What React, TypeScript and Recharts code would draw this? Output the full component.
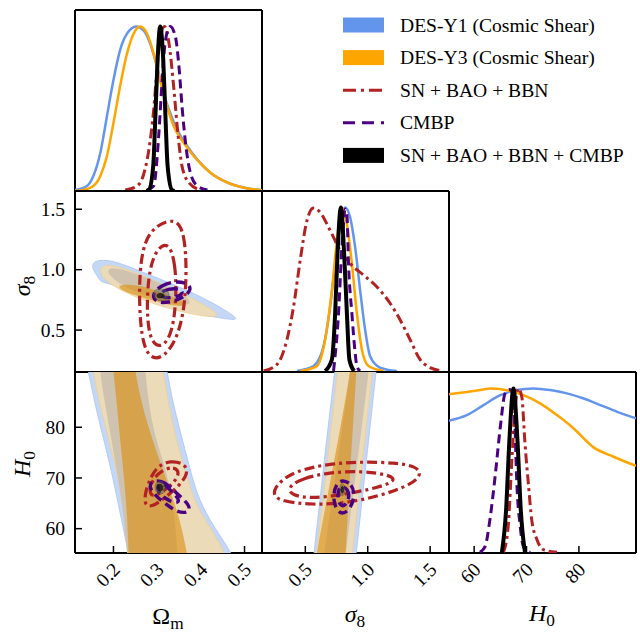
import React from 'react';
import { ScatterChart, Scatter, XAxis, YAxis } from 'recharts';

type Pt = [number, number];

// colours
const BLUE = '#6495ED';
const ORANGE = '#FFA500';
const RED = '#B22222';
const PURPLE = '#4B0082';
const FONT = 'Liberation Serif, DejaVu Serif, serif';

// axis ranges and ticks
const omDomain = [0.112, 0.54];
const s8Domain = [0.153, 1.651];
const h0Domain = [55.2, 90.9];
const pdfDomain = [0, 1.1];
const omTicks = [0.2, 0.3, 0.4, 0.5];
const s8Ticks = [0.5, 1.0, 1.5];
const h0Ticks = [60, 70, 80];

// ---- 1D marginals (normalised to peak = 1) ----
const omY1: Pt[] = [[0.112, 0.006], [0.139, 0.03], [0.154, 0.091], [0.17, 0.232], [0.185, 0.453], [0.2, 0.674], [0.215, 0.855], [0.231, 0.956], [0.252, 1.0], [0.269, 0.976], [0.284, 0.896], [0.3, 0.754], [0.315, 0.594], [0.33, 0.473], [0.346, 0.372], [0.369, 0.272], [0.392, 0.191], [0.422, 0.111], [0.461, 0.051], [0.499, 0.02], [0.54, 0.005]];
const omY3: Pt[] = [[0.112, 0.0], [0.131, 0.006], [0.154, 0.03], [0.17, 0.091], [0.185, 0.211], [0.2, 0.413], [0.215, 0.634], [0.231, 0.835], [0.246, 0.956], [0.261, 1.0], [0.277, 0.956], [0.292, 0.835], [0.307, 0.674], [0.323, 0.513], [0.338, 0.393], [0.361, 0.292], [0.384, 0.211], [0.422, 0.111], [0.461, 0.051], [0.499, 0.02], [0.54, 0.005]];
const omSN: Pt[] = [[0.227, 0.006], [0.254, 0.03], [0.269, 0.1], [0.281, 0.25], [0.292, 0.49], [0.3, 0.75], [0.307, 0.935], [0.317, 1.0], [0.327, 0.9], [0.338, 0.63], [0.346, 0.39], [0.357, 0.15], [0.373, 0.05], [0.399, 0.006]];
const omCMB: Pt[] = [[0.277, 0.006], [0.292, 0.03], [0.304, 0.352], [0.311, 0.654], [0.319, 0.915], [0.33, 1.0], [0.342, 0.935], [0.35, 0.754], [0.357, 0.513], [0.365, 0.292], [0.376, 0.111], [0.392, 0.03], [0.415, 0.006]];
const omAll: Pt[] = [[0.275, 0.0], [0.281, 0.006], [0.291, 0.151], [0.296, 0.453], [0.301, 0.795], [0.307, 1.0], [0.314, 0.795], [0.319, 0.453], [0.324, 0.151], [0.334, 0.006], [0.34, 0.0]];

const s8Y1: Pt[] = [[0.433, 0.006], [0.566, 0.036], [0.646, 0.157], [0.699, 0.398], [0.739, 0.659], [0.779, 0.9], [0.819, 1.0], [0.859, 0.94], [0.899, 0.759], [0.939, 0.498], [0.979, 0.257], [1.019, 0.096], [1.099, 0.027], [1.233, 0.006]];
const s8Y3: Pt[] = [[0.459, 0.006], [0.593, 0.036], [0.659, 0.197], [0.713, 0.498], [0.753, 0.799], [0.793, 1.0], [0.833, 0.9], [0.873, 0.659], [0.913, 0.357], [0.953, 0.137], [1.006, 0.036], [1.126, 0.006]];
const s8SN: Pt[] = [[0.166, 0.006], [0.273, 0.046], [0.353, 0.197], [0.406, 0.398], [0.459, 0.679], [0.513, 0.92], [0.566, 0.996], [0.619, 0.97], [0.699, 0.86], [0.779, 0.739], [0.859, 0.659], [0.966, 0.589], [1.073, 0.518], [1.179, 0.418], [1.259, 0.317], [1.339, 0.197], [1.419, 0.076], [1.499, 0.027], [1.606, 0.006]];
const s8CMB: Pt[] = [[0.726, 0.006], [0.766, 0.357], [0.793, 0.759], [0.819, 0.99], [0.833, 0.96], [0.846, 0.659], [0.873, 0.357], [0.899, 0.117], [0.913, 0.036], [0.939, 0.006]];
const s8All: Pt[] = [[0.659, 0.006], [0.713, 0.076], [0.739, 0.357], [0.758, 0.719], [0.785, 1.0], [0.811, 0.719], [0.833, 0.357], [0.853, 0.076], [0.891, 0.006]];

const h0Y1: Pt[] = [[55.2, 0.804], [58.6, 0.838], [61.8, 0.899], [65.0, 0.959], [68.1, 0.99], [71.3, 1.0], [74.5, 0.99], [77.7, 0.97], [80.9, 0.939], [84.1, 0.899], [87.3, 0.858], [90.9, 0.818]];
const h0Y3: Pt[] = [[55.2, 0.965], [58.6, 0.979], [61.8, 0.994], [63.0, 1.0], [66.9, 0.985], [69.4, 0.959], [72.6, 0.909], [75.8, 0.838], [79.0, 0.757], [82.8, 0.642], [86.6, 0.585], [90.9, 0.529]];
const h0SN: Pt[] = [[65.6, 0.004], [66.5, 0.161], [67.2, 0.565], [67.8, 0.868], [68.45, 1.0], [69.1, 0.949], [69.7, 0.667], [70.4, 0.404], [71.0, 0.2], [72.0, 0.081], [73.2, 0.02], [75.8, 0.004]];
const h0CMB: Pt[] = [[61.1, 0.004], [62.1, 0.04], [63.0, 0.2], [64.0, 0.464], [65.0, 0.767], [65.9, 0.97], [66.7, 0.994], [67.5, 0.97], [67.8, 0.767], [68.1, 0.464], [68.8, 0.161], [69.4, 0.04], [70.7, 0.004]];
const h0All: Pt[] = [[65.3, 0.004], [66.1, 0.262], [66.7, 0.667], [67.5, 1.0], [68.3, 0.667], [68.9, 0.262], [69.7, 0.004]];

// ---- 2D contours: Omega_m vs sigma_8 ----
const osY1Out: Pt[] = [[0.154, 1.078], [0.196, 1.084], [0.265, 0.982], [0.342, 0.872], [0.418, 0.748], [0.491, 0.588], [0.472, 0.583], [0.403, 0.624], [0.342, 0.679], [0.265, 0.781], [0.204, 0.872], [0.169, 0.899], [0.166, 0.935], [0.15, 1.01]];
const osY1In: Pt[] = [[0.185, 1.023], [0.227, 1.001], [0.303, 0.899], [0.372, 0.775], [0.38, 0.706], [0.342, 0.706], [0.265, 0.789], [0.212, 0.886], [0.189, 0.955]];
const osY3Out: Pt[] = [[0.167, 1.037], [0.204, 1.037], [0.265, 0.955], [0.342, 0.83], [0.418, 0.692], [0.445, 0.615], [0.418, 0.605], [0.342, 0.66], [0.265, 0.748], [0.204, 0.853], [0.173, 0.935]];
const osY3In: Pt[] = [[0.212, 0.881], [0.265, 0.872], [0.326, 0.789], [0.372, 0.72], [0.357, 0.687], [0.303, 0.726], [0.242, 0.797], [0.212, 0.841]];
const osSNOut: Pt[] = [[0.342, 1.44], [0.363, 1.3], [0.368, 0.968], [0.361, 0.61], [0.336, 0.35], [0.296, 0.23], [0.266, 0.35], [0.258, 0.748], [0.262, 1.106], [0.282, 1.34]];
const osSNIn: Pt[] = [[0.326, 1.24], [0.342, 1.051], [0.344, 0.775], [0.336, 0.49], [0.313, 0.35], [0.286, 0.39], [0.276, 0.61], [0.279, 0.941], [0.295, 1.16]];
const osCMBOut: Pt[] = [[0.288, 0.803], [0.311, 0.872], [0.342, 0.907], [0.372, 0.886], [0.379, 0.83], [0.357, 0.762], [0.326, 0.726], [0.296, 0.726]];
const osCMBIn: Pt[] = [[0.303, 0.803], [0.326, 0.844], [0.353, 0.844], [0.361, 0.803], [0.342, 0.77], [0.315, 0.762]];
const osAllOut: Pt[] = [[0.287, 0.8], [0.298, 0.845], [0.318, 0.84], [0.331, 0.8], [0.322, 0.745], [0.3, 0.735]];
const osAllIn: Pt[] = [[0.298, 0.795], [0.306, 0.812], [0.316, 0.8], [0.318, 0.775], [0.308, 0.758], [0.298, 0.77]];

// ---- 2D contours: Omega_m vs H0 ----
const ohY1Out: Pt[] = [[0.131, 94.9], [0.143, 90.96], [0.158, 84.4], [0.177, 77.8], [0.196, 71.2], [0.215, 63.2], [0.235, 54.9], [0.242, 51.4], [0.487, 51.4], [0.472, 54.9], [0.449, 57.96], [0.419, 61.9], [0.392, 66.5], [0.373, 72.5], [0.353, 79.1], [0.334, 85.7], [0.323, 90.96], [0.315, 94.9]];
const ohY3Out: Pt[] = [[0.146, 94.9], [0.154, 90.96], [0.169, 84.4], [0.189, 77.8], [0.208, 71.2], [0.227, 63.2], [0.244, 54.9], [0.25, 51.4], [0.472, 51.4], [0.457, 54.9], [0.419, 60.6], [0.388, 64.6], [0.365, 71.2], [0.342, 77.8], [0.327, 84.4], [0.313, 90.96], [0.307, 94.9]];
const ohY1In: Pt[] = [[0.166, 94.9], [0.169, 90.96], [0.181, 84.4], [0.195, 77.8], [0.208, 71.2], [0.223, 63.2], [0.231, 54.9], [0.236, 51.4], [0.35, 51.4], [0.346, 54.9], [0.342, 61.3], [0.33, 67.9], [0.315, 73.1], [0.296, 77.8], [0.281, 84.4], [0.273, 90.96], [0.269, 94.9]];
const ohY3In: Pt[] = [[0.196, 94.9], [0.2, 90.96], [0.208, 84.4], [0.215, 77.8], [0.223, 71.2], [0.231, 63.2], [0.235, 54.9], [0.237, 51.4], [0.376, 51.4], [0.369, 54.9], [0.357, 59.9], [0.342, 64.6], [0.315, 71.2], [0.288, 77.8], [0.265, 84.4], [0.25, 90.96], [0.244, 94.9]];
const ohSNOut: Pt[] = [[0.3, 72.2], [0.33, 73.5], [0.364, 72.8], [0.371, 70.9], [0.351, 68.5], [0.318, 66.1], [0.286, 64.1], [0.27, 64.8], [0.274, 67.7], [0.286, 70.2]];
const ohSNIn: Pt[] = [[0.31, 71.5], [0.339, 72.3], [0.352, 71.0], [0.339, 69.1], [0.31, 67.1], [0.289, 66.2], [0.281, 67.6], [0.291, 69.8]];
const ohCMBOut: Pt[] = [[0.288, 69.5], [0.315, 69.5], [0.342, 67.2], [0.376, 64.6], [0.373, 63.1], [0.346, 63.2], [0.319, 64.9], [0.296, 66.5], [0.281, 68.2]];
const ohCMBIn: Pt[] = [[0.3, 68.9], [0.319, 68.7], [0.338, 66.9], [0.353, 65.5], [0.342, 64.9], [0.319, 65.9], [0.302, 67.2]];
const ohAllOut: Pt[] = [[0.296, 69.2], [0.31, 69.6], [0.32, 68.5], [0.318, 67.0], [0.304, 66.6], [0.294, 67.6]];
const ohAllIn: Pt[] = [[0.3, 68.8], [0.31, 69.0], [0.315, 68.2], [0.313, 67.4], [0.304, 67.3], [0.299, 68.0]];

// ---- 2D contours: sigma_8 vs H0 ----
const shY1Out: Pt[] = [[0.755, 94.9], [0.734, 90.96], [0.649, 72.9], [0.569, 54.9], [0.55, 51.4], [0.891, 51.4], [0.907, 54.9], [0.987, 72.9], [1.067, 90.96], [1.086, 94.9]];
const shY3Out: Pt[] = [[0.777, 94.9], [0.758, 90.96], [0.675, 72.9], [0.59, 54.9], [0.574, 51.4], [0.859, 51.4], [0.875, 54.9], [0.955, 72.9], [1.035, 90.96], [1.051, 94.9]];
const shY1In: Pt[] = [[0.875, 94.9], [0.862, 90.96], [0.755, 72.9], [0.649, 54.9], [0.635, 51.4], [0.809, 51.4], [0.822, 54.9], [0.915, 72.9], [1.009, 90.96], [1.022, 94.9]];
const shY3In: Pt[] = [[0.875, 94.9], [0.862, 90.96], [0.729, 72.9], [0.587, 54.9], [0.571, 51.4], [0.817, 51.4], [0.822, 54.9], [0.862, 72.9], [0.91, 90.96], [0.915, 94.9]];
const shSNOut: Pt[] = [[0.235, 66.7], [0.305, 65.4], [0.555, 64.7], [0.822, 65.0], [1.089, 66.4], [1.335, 68.5], [1.435, 70.6], [1.39, 72.3], [1.222, 73.0], [0.955, 73.2], [0.689, 72.8], [0.415, 71.4], [0.276, 68.9]];
const shSNIn: Pt[] = [[0.36, 68.2], [0.47, 69.9], [0.689, 71.1], [0.955, 71.4], [1.175, 70.6], [1.23, 69.5], [1.089, 68.1], [0.822, 66.8], [0.555, 65.9], [0.385, 66.6]];
const shCMBOut: Pt[] = [[0.795, 69.7], [0.875, 68.8], [0.897, 66.5], [0.862, 63.9], [0.795, 62.7], [0.742, 63.9], [0.721, 66.5], [0.747, 68.8]];
const shCMBIn: Pt[] = [[0.795, 68.5], [0.843, 67.7], [0.854, 66.0], [0.817, 64.4], [0.774, 64.6], [0.758, 66.4], [0.769, 68.0]];
const shAllOut: Pt[] = [[0.78, 68.9], [0.805, 69.0], [0.822, 67.8], [0.812, 66.5], [0.788, 66.4], [0.772, 67.5]];
const shAllIn: Pt[] = [[0.786, 68.4], [0.803, 68.5], [0.812, 67.7], [0.805, 66.9], [0.789, 66.9], [0.781, 67.6]];

const legendItems = [
  { label: 'DES-Y1 (Cosmic Shear)', kind: 'box', color: BLUE },
  { label: 'DES-Y3 (Cosmic Shear)', kind: 'box', color: ORANGE },
  { label: 'SN + BAO + BBN', kind: 'line', color: RED, dash: '13 5 3 5' },
  { label: 'CMBP', kind: 'line', color: PURPLE, dash: '12 7' },
  { label: 'SN + BAO + BBN + CMBP', kind: 'box', color: '#000' },
];

// panel grid (pixels)
const COLS = [75, 262, 449];
const ROWS = [10, 191, 372];
const PW = 187;
const PH = 181;

const toXY = (a: Pt[]) => a.map(([x, y]) => ({ x, y }));
const noDot = () => <g />;

// 1D line series
const line1d = (key: string, d: Pt[], stroke: string, w: number, dash?: string) => (
  <Scatter
    key={key}
    data={toXY(d)}
    xAxisId="b"
    yAxisId="l"
    isAnimationActive={false}
    shape={noDot}
    line={{ stroke, strokeWidth: w, strokeDasharray: dash, fill: 'none', strokeLinecap: 'butt' }}
    lineType="joint"
    lineJointType="monotoneX"
  />
);

// closed contour (filled or outline)
const contour = (key: string, d: Pt[], fill: string, stroke: string, w: number, dash?: string, fillOpacity = 1) => (
  <Scatter
    key={key}
    data={toXY(d)}
    xAxisId="b"
    yAxisId="l"
    isAnimationActive={false}
    shape={noDot}
    line={{ stroke, strokeWidth: w, strokeDasharray: dash, fill, fillOpacity }}
    lineType="joint"
    lineJointType="basisClosed"
  />
);

const fmt1 = (v: number) => v.toFixed(1);
const fmt0 = (v: number) => String(v);

const XTick = (props: any) => {
  const { x, y, payload, fmt } = props;
  return (
    <text x={x + 3} y={y} transform={`rotate(-45, ${x + 3}, ${y})`} textAnchor="end" dy="0.35em"
      fontFamily={FONT} fontSize={19.5} fill="#000">
      {fmt(payload.value)}
    </text>
  );
};

const YTick = (props: any) => {
  const { x, y, payload, fmt } = props;
  return (
    <text x={x} y={y} textAnchor="end" dy="0.35em" fontFamily={FONT} fontSize={19.5} fill="#000">
      {fmt(payload.value)}
    </text>
  );
};

const axisLine = { stroke: '#000', strokeWidth: 2 };
const tickLine = { stroke: '#000', strokeWidth: 1.5 };

interface PanelProps {
  col: number;
  row: number;
  xDom: number[];
  yDom: number[];
  xTicks: number[];
  yTicks?: number[];
  diag?: boolean;
  xFmt?: (v: number) => string;
  yFmt?: (v: number) => string;
  xLabels?: boolean;
  yLabels?: boolean;
  children: React.ReactNode;
}

function Panel({ col, row, xDom, yDom, xTicks, yTicks, diag, xFmt, yFmt, xLabels, yLabels, children }: PanelProps) {
  const ml = yLabels ? 75 : 4;
  const mb = xLabels ? 60 : 4;
  const mt = 4;
  const mr = 4;
  return (
    <div style={{ position: 'absolute', left: COLS[col] - ml, top: ROWS[row] - mt }}>
      <ScatterChart width={PW + ml + mr} height={PH + mt + mb} margin={{ top: 0, right: 0, bottom: 0, left: 0 }}>
        <XAxis xAxisId="b" type="number" dataKey="x" domain={xDom} ticks={xTicks} allowDataOverflow
          orientation="bottom" height={mb} tickSize={-7} tickMargin={20} interval={0}
          axisLine={axisLine} tickLine={tickLine}
          tick={xLabels ? <XTick fmt={xFmt} /> : false} />
        <XAxis xAxisId="t" type="number" dataKey="x" domain={xDom} ticks={xTicks} allowDataOverflow
          orientation="top" height={mt} tickSize={-7} interval={0}
          axisLine={axisLine} tickLine={diag ? false : tickLine} tick={false} />
        <YAxis yAxisId="l" type="number" dataKey="y" domain={yDom} ticks={diag ? undefined : yTicks} allowDataOverflow
          orientation="left" width={ml} tickSize={-7} tickMargin={17} interval={0}
          axisLine={axisLine} tickLine={diag ? false : tickLine}
          tick={yLabels ? <YTick fmt={yFmt} /> : false} />
        <YAxis yAxisId="r" type="number" dataKey="y" domain={yDom} ticks={diag ? undefined : yTicks} allowDataOverflow
          orientation="right" width={mr} tickSize={-7} interval={0}
          axisLine={axisLine} tickLine={diag ? false : tickLine} tick={false} />
        {children}
      </ScatterChart>
    </div>
  );
}

// DES filled regions, then the three outline/filled probes
const desFills = (p: string, y1o: Pt[], y1i: Pt[], y3o: Pt[], y3i: Pt[]) => [
  contour(p + 'y1o', y1o, '#c4d7f5', '#a9c4f0', 0.8),
  contour(p + 'y3o', y3o, '#ecdbb9', '#f3cf8e', 0.8),
  contour(p + 'y1i', y1i, '#cfc3b0', 'none', 0),
  contour(p + 'y3i', y3i, 'rgb(220,140,10)', 'none', 0, undefined, 0.6),
];

const probes = (p: string, sno: Pt[], sni: Pt[], cmo: Pt[], cmi: Pt[], alo: Pt[], ali: Pt[]) => [
  contour(p + 'sno', sno, 'none', RED, 3.2, '10 4 3 4'),
  contour(p + 'sni', sni, 'none', RED, 3.2, '10 4 3 4'),
  contour(p + 'cmo', cmo, 'none', PURPLE, 3.4, '9 5'),
  contour(p + 'cmi', cmi, 'none', PURPLE, 3.4, '9 5'),
  contour(p + 'alo', alo, 'rgba(90,90,90,0.45)', 'rgba(60,60,60,0.6)', 0.6),
  contour(p + 'ali', ali, 'rgba(20,20,10,0.8)', 'none', 0),
];

const Sub = ({ base, sub, italic }: { base: string; sub: string; italic?: boolean }) => (
  <>
    <tspan fontStyle={italic ? 'italic' : 'normal'}>{base}</tspan>
    <tspan dy="0.28em" fontSize="0.72em">{sub}</tspan>
  </>
);

export default function App() {
  return (
    <div style={{ position: 'absolute', left: 0, top: 0, width: 640, height: 633, background: '#fff', fontFamily: FONT }}>
      {/* top-left: Omega_m marginal */}
      <Panel col={0} row={0} xDom={omDomain} yDom={pdfDomain} xTicks={omTicks} diag>
        {line1d('a1', omY1, BLUE, 2.5)}
        {line1d('a2', omY3, ORANGE, 2.5)}
        {line1d('a3', omSN, RED, 3, '10 4 3 4')}
        {line1d('a4', omCMB, PURPLE, 3, '9 5')}
        {line1d('a5', omAll, '#000', 4)}
      </Panel>

      {/* sigma_8 vs Omega_m */}
      <Panel col={0} row={1} xDom={omDomain} yDom={s8Domain} xTicks={omTicks} yTicks={s8Ticks} yLabels yFmt={fmt1}>
        {desFills('os', osY1Out, osY1In, osY3Out, osY3In)}
        {probes('os', osSNOut, osSNIn, osCMBOut, osCMBIn, osAllOut, osAllIn)}
      </Panel>

      {/* sigma_8 marginal */}
      <Panel col={1} row={1} xDom={s8Domain} yDom={pdfDomain} xTicks={s8Ticks} diag>
        {line1d('b1', s8Y1, BLUE, 2.5)}
        {line1d('b2', s8Y3, ORANGE, 2.5)}
        {line1d('b3', s8SN, RED, 3, '10 4 3 4')}
        {line1d('b4', s8CMB, PURPLE, 3, '9 5')}
        {line1d('b5', s8All, '#000', 4)}
      </Panel>

      {/* H0 vs Omega_m */}
      <Panel col={0} row={2} xDom={omDomain} yDom={h0Domain} xTicks={omTicks} yTicks={h0Ticks}
        xLabels yLabels xFmt={fmt1} yFmt={fmt0}>
        {desFills('oh', ohY1Out, ohY1In, ohY3Out, ohY3In)}
        {probes('oh', ohSNOut, ohSNIn, ohCMBOut, ohCMBIn, ohAllOut, ohAllIn)}
      </Panel>

      {/* H0 vs sigma_8 */}
      <Panel col={1} row={2} xDom={s8Domain} yDom={h0Domain} xTicks={s8Ticks} yTicks={h0Ticks} xLabels xFmt={fmt1}>
        {desFills('sh', shY1Out, shY1In, shY3Out, shY3In)}
        {probes('sh', shSNOut, shSNIn, shCMBOut, shCMBIn, shAllOut, shAllIn)}
      </Panel>

      {/* H0 marginal */}
      <Panel col={2} row={2} xDom={h0Domain} yDom={pdfDomain} xTicks={h0Ticks} diag xLabels xFmt={fmt0}>
        {line1d('c1', h0Y1, BLUE, 2.5)}
        {line1d('c2', h0Y3, ORANGE, 2.5)}
        {line1d('c3', h0SN, RED, 3, '10 4 3 4')}
        {line1d('c4', h0CMB, PURPLE, 3, '9 5')}
        {line1d('c5', h0All, '#000', 4)}
      </Panel>

      {/* axis titles and legend */}
      <svg width={640} height={633} style={{ position: 'absolute', left: 0, top: 0, pointerEvents: 'none' }}>
        <g fontFamily={FONT} fontSize={24} fill="#000">
          <text x={30} y={286} textAnchor="middle" transform="rotate(-90, 30, 286)">
            <Sub base="σ" sub="8" italic />
          </text>
          <text x={30} y={464} textAnchor="middle" transform="rotate(-90, 30, 464)">
            <Sub base="H" sub="0" italic />
          </text>
          <text x={168} y={624} textAnchor="middle">
            <Sub base="Ω" sub="m" />
          </text>
          <text x={355} y={622} textAnchor="middle">
            <Sub base="σ" sub="8" italic />
          </text>
          <text x={542} y={621} textAnchor="middle">
            <Sub base="H" sub="0" italic />
          </text>
        </g>
        <g fontFamily={FONT} fontSize={19.6} fill="#000">
          {legendItems.map((it, i) => {
            const cy = 25 + i * 32.6;
            return (
              <g key={it.label}>
                {it.kind === 'box' ? (
                  <rect x={343} y={cy - 7.5} width={41} height={15} fill={it.color} />
                ) : (
                  <line x1={343} x2={384} y1={cy} y2={cy} stroke={it.color} strokeWidth={3} strokeDasharray={it.dash} />
                )}
                <text x={400} y={cy + 6.5}>{it.label}</text>
              </g>
            );
          })}
        </g>
      </svg>
    </div>
  );
}
